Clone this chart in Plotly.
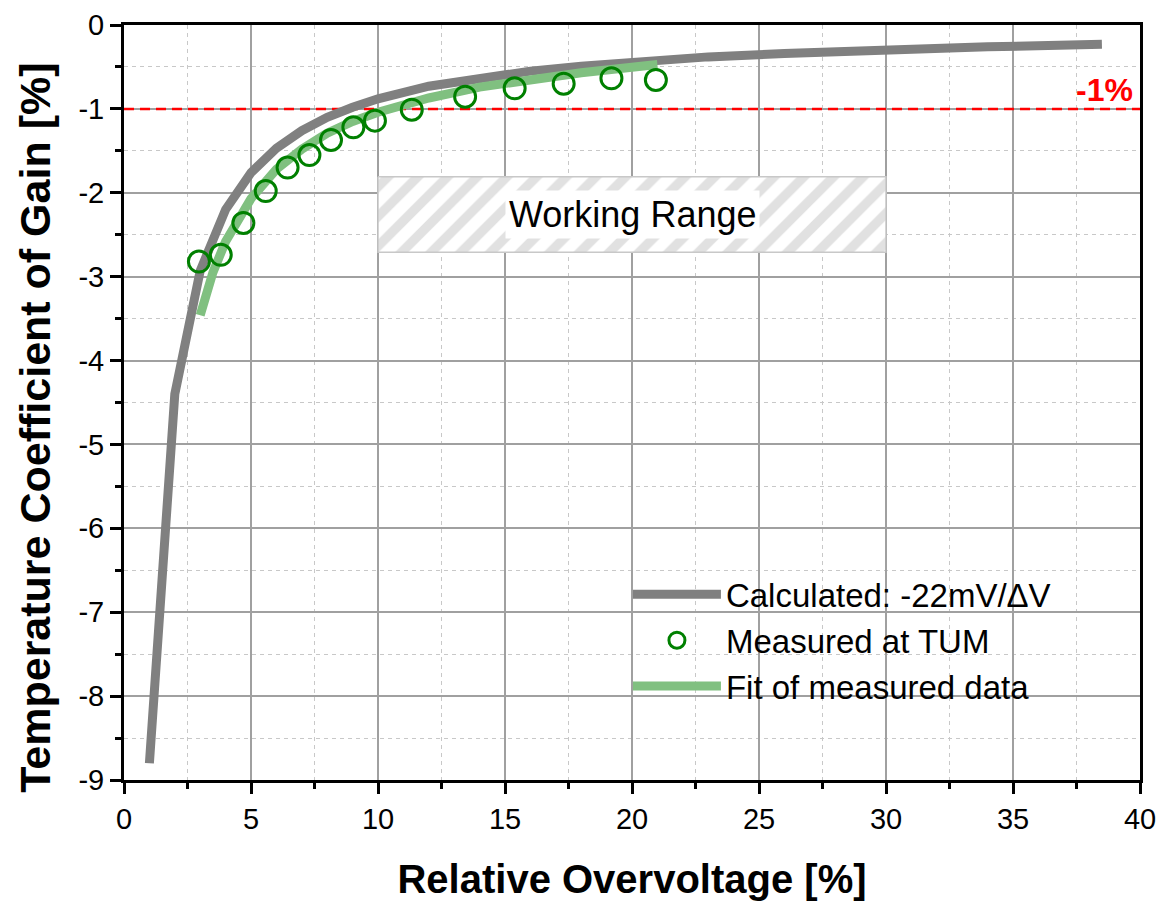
import plotly.graph_objects as go

# Calculated curve (-22mV/dV)
calc_x = [1, 2, 3, 4, 5, 6, 7, 8, 9, 10, 12, 14, 16, 18, 20, 23, 26, 30, 34, 38.5]
calc_y = [-8.8, -4.4, -2.93, -2.2, -1.76, -1.47, -1.26, -1.1, -0.98, -0.88,
          -0.73, -0.63, -0.55, -0.49, -0.44, -0.38, -0.34, -0.29, -0.26, -0.23]

# Measured at TUM
meas_x = [2.95, 3.81, 4.70, 5.58, 6.44, 7.30, 8.15, 9.03, 9.88, 11.33, 13.43, 15.38, 17.31, 19.19, 20.94]
meas_y = [-2.82, -2.74, -2.36, -1.98, -1.70, -1.55, -1.37, -1.22, -1.14, -1.01, -0.855, -0.755, -0.70, -0.636, -0.655]

# Fit of measured data
fit_x = [3.0, 3.5, 4, 5, 6, 7, 8, 9, 10, 12, 14, 16, 18, 21]
fit_y = [-3.46, -2.95, -2.58, -2.07, -1.72, -1.48, -1.29, -1.15, -1.04, -0.87, -0.74, -0.65, -0.57, -0.47]

# -1% reference level
ref_x = [0, 40]
ref_y = [-1, -1]

# Working range box
wr_x = [10, 30, 30, 10, 10]
wr_y = [-1.81, -1.81, -2.71, -2.71, -1.81]

# Tick labels
x_tickvals = [0, 5, 10, 15, 20, 25, 30, 35, 40]
x_ticktext = ["0", "5", "10", "15", "20", "25", "30", "35", "40"]
y_tickvals = [0, -1, -2, -3, -4, -5, -6, -7, -8, -9]
y_ticktext = ["0", "-1", "-2", "-3", "-4", "-5", "-6", "-7", "-8", "-9"]

FONT = "Arial, Liberation Sans, sans-serif"

fig = go.Figure()

fig.add_trace(go.Scatter(
    x=wr_x, y=wr_y, mode="lines", fill="toself",
    line=dict(color="#c8c8c8", width=1.5),
    fillcolor="white",
    fillpattern=dict(shape="/", fgcolor="#c4c4c4", bgcolor="white", size=21, solidity=0.45),
    showlegend=False, hoverinfo="skip"))

fig.add_trace(go.Scatter(
    x=ref_x, y=ref_y, mode="lines", showlegend=False, hoverinfo="skip",
    line=dict(color="#ff0000", width=2.5, dash="10px,6px")))

fig.add_trace(go.Scatter(
    x=calc_x, y=calc_y, mode="lines", name="Calculated: -22mV/\u0394V", legendrank=1,
    line=dict(color="#808080", width=9)))

fig.add_trace(go.Scatter(
    x=fit_x, y=fit_y, mode="lines", name="Fit of measured data", legendrank=3,
    line=dict(color="#80c080", width=9)))

fig.add_trace(go.Scatter(
    x=meas_x, y=meas_y, mode="markers", name="Measured at TUM", legendrank=2,
    marker=dict(symbol="circle-open", size=21, color="#008000", line=dict(width=3, color="#008000"))))

fig.add_annotation(x=20, y=-2.26, xref="x", yref="y", text="Working Range",
                   showarrow=False, font=dict(family=FONT, size=36, color="black"),
                   bgcolor="white", borderpad=3)

fig.add_annotation(x=38.6, y=-0.78, xref="x", yref="y", text="<b>-1%</b>",
                   showarrow=False, font=dict(family=FONT, size=32, color="#ff0000"))

fig.add_annotation(x=-0.087, y=0.466, xref="paper", yref="paper",
                   text="<b>Temperature Coefficient of Gain [%]</b>", textangle=-90,
                   showarrow=False, xanchor="center", yanchor="middle",
                   font=dict(family=FONT, size=43, color="black"))

axis_common = dict(
    showline=True, linecolor="black", linewidth=3, mirror=True,
    ticks="outside", ticklen=11, tickwidth=2.5, tickcolor="black",
    showgrid=True, gridcolor="#a0a0a0", gridwidth=1.5,
    zeroline=False, automargin=False,
    tickfont=dict(family=FONT, size=29, color="black"),
)

fig.update_xaxes(
    range=[0, 40], tickmode="array", tickvals=x_tickvals, ticktext=x_ticktext,
    minor=dict(dtick=2.5, showgrid=True, gridcolor="#c8c8c8", griddash="4px,4px", gridwidth=1,
               ticks="outside", ticklen=6, tickwidth=2.5, tickcolor="black"),
    title=dict(text="<b>Relative Overvoltage [%]</b>", font=dict(family=FONT, size=40, color="black"), standoff=32),
    **axis_common)

fig.update_yaxes(
    range=[-9, 0], tickmode="array", tickvals=y_tickvals, ticktext=y_ticktext,
    minor=dict(dtick=0.5, tick0=0, showgrid=True, gridcolor="#c8c8c8", griddash="4px,4px", gridwidth=1,
               ticks="outside", ticklen=6, tickwidth=2.5, tickcolor="black"),
    **axis_common)

fig.update_layout(
    width=1159, height=902,
    margin=dict(l=124, r=19, t=25, b=122),
    plot_bgcolor="white", paper_bgcolor="white",
    font=dict(family=FONT, size=28, color="black"),
    legend=dict(x=0.496, y=0.283, xanchor="left", yanchor="top",
                bgcolor="rgba(0,0,0,0)", borderwidth=0,
                font=dict(family=FONT, size=33, color="black"),
                itemwidth=88, tracegroupgap=0, traceorder="normal"),
)

fig.write_html("out.html")
